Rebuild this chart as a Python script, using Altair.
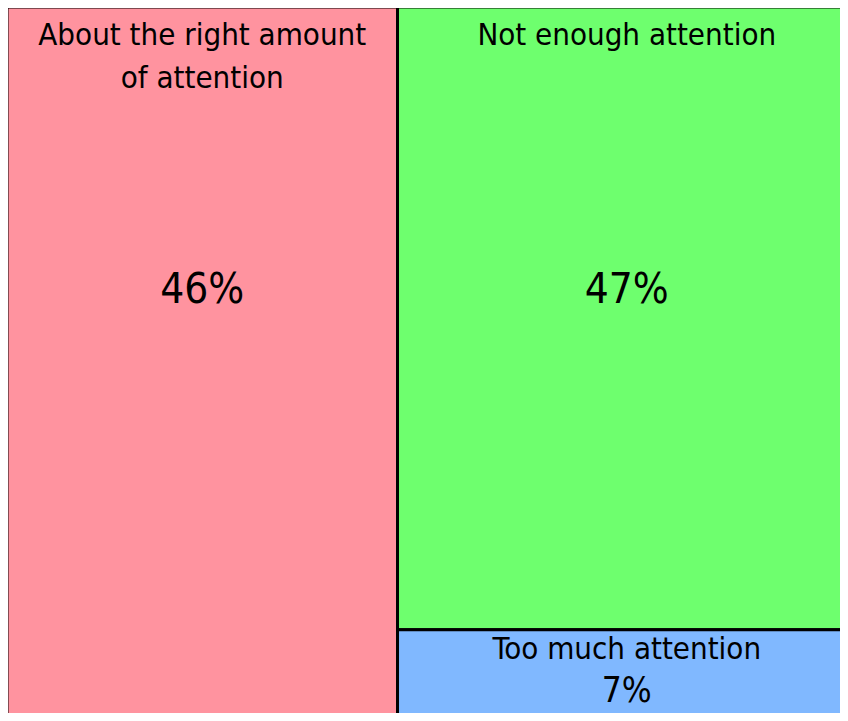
import altair as alt
import pandas as pd

# Data
categories = ["About the right amount\nof attention", "Not enough attention", "Too much attention"]
values = [46, 47, 7]
colors = ["#FF939F", "#6EFF6E", "#80B8FF"]

# Treemap layout (slice-and-dice): first tile takes a full-height column,
# remaining tiles stack vertically in the second column.
total = sum(values)
rest = total - values[0]
x0s, x1s, y0s, y1s = [], [], [], []
col_w = values[0] / total * 100
x0s.append(0); x1s.append(col_w); y0s.append(0); y1s.append(100)
cy = 0
for v in values[1:]:
    h = v / rest * 100
    x0s.append(col_w); x1s.append(100); y0s.append(cy); y1s.append(cy + h)
    cy += h

df = pd.DataFrame({
    "cat": categories,
    "val": values,
    "color": colors,
    "x0": x0s, "x1": x1s, "y0": y0s, "y1": y1s,
})
df["xc"] = (df["x0"] + df["x1"]) / 2
df["pct"] = df["val"].astype(str) + "%"
big = (df["y1"] - df["y0"]) > 50
# label / value baseline offsets from the tile top (treemap units), value font size
df["ly"] = df["y0"] + big.map({True: 5.31, False: 4.05})
df["vy"] = df["y0"] + big.map({True: 41.4, False: 10.05})
df["fs"] = big.map({True: 42, False: 35})

W, H = 832, 705
PX_X, PX_Y = 8.49, 7.155  # pixels per treemap unit
xs = alt.Scale(domain=[0.12, 0.12 + W / PX_X], nice=False, zero=False)
ys = alt.Scale(domain=[0.14, 0.14 + H / PX_Y], nice=False, zero=False, reverse=True)
FONT = "DejaVu Sans Condensed"

base = alt.Chart(df)

rects = base.mark_rect(stroke="black", strokeWidth=3, clip=True).encode(
    x=alt.X("x0:Q", scale=xs, axis=None),
    x2="x1:Q",
    y=alt.Y("y0:Q", scale=ys, axis=None),
    y2="y1:Q",
    color=alt.Color("color:N", scale=None),
)

labels = base.mark_text(
    font=FONT, fontSize=31, color="black", baseline="alphabetic", align="center",
    lineBreak="\n", lineHeight=43, clip=True,
).encode(
    x=alt.X("xc:Q", scale=xs),
    y=alt.Y("ly:Q", scale=ys),
    text="cat:N",
)

vals = base.mark_text(
    font=FONT, color="black", baseline="alphabetic", align="center", clip=True,
).encode(
    x=alt.X("xc:Q", scale=xs),
    y=alt.Y("vy:Q", scale=ys),
    size=alt.Size("fs:Q", scale=None, legend=None),
    text="pct:N",
)

chart = (rects + labels + vals).properties(
    width=W, height=H, padding=0, autosize=alt.AutoSizeParams(type="none"),
    background="white",
).configure_view(stroke=None)

chart.save("out.html", embed_options={"renderer": "svg", "actions": False})
